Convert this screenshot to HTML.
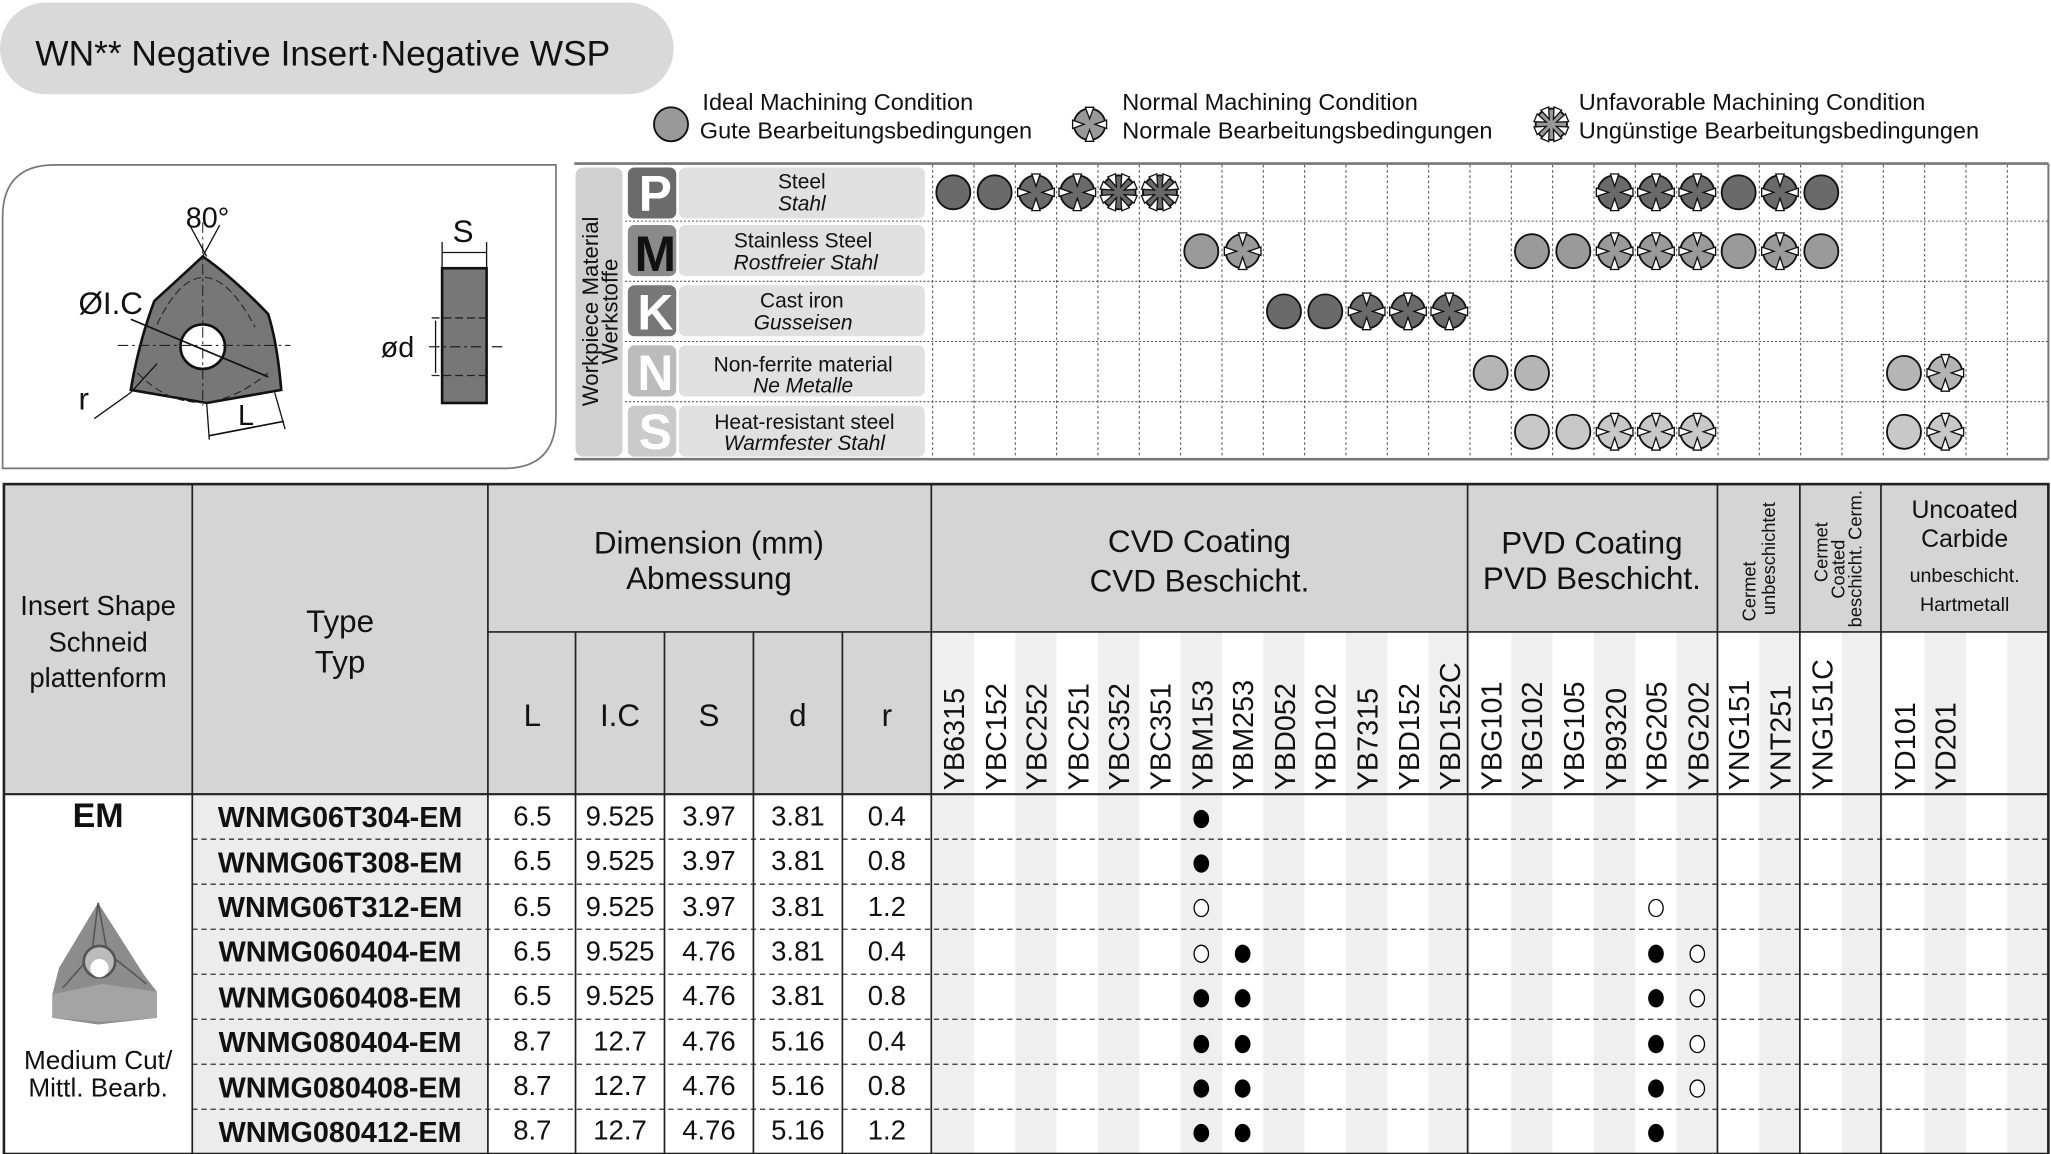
<!DOCTYPE html>
<html><head><meta charset="utf-8">
<style>
html,body{margin:0;padding:0;background:#fff;width:2051px;height:1154px;overflow:hidden}
svg{display:block}
text{font-family:"Liberation Sans",sans-serif;fill:#111}
</style></head>
<body>
<svg id="s" width="2051" height="1154" viewBox="0 0 1568 882" preserveAspectRatio="none" xmlns="http://www.w3.org/2000/svg">
<g id="bg"></g>
<rect x="0" y="2" width="515" height="70" rx="35" fill="#d9d9d9"/>
<text x="27" y="50" font-size="27">WN** Negative Insert·Negative WSP</text>
<g id="leg"></g>
<text x="537" y="84" font-size="18">Ideal Machining Condition</text>
<text x="535" y="106" font-size="18">Gute Bearbeitungsbedingungen</text>
<text x="858" y="84" font-size="18">Normal Machining Condition</text>
<text x="858" y="106" font-size="18">Normale Bearbeitungsbedingungen</text>
<text x="1207" y="84" font-size="18">Unfavorable Machining Condition</text>
<text x="1207" y="106" font-size="18">Ungünstige Bearbeitungsbedingungen</text>
<path d="M42,126 H425 V318 Q425,358 385,358 H2 V166 Q2,126 42,126 Z" fill="#fff" stroke="#777" stroke-width="1.3"/>
<path d="M155,196 Q140,210 118,230 Q106,262 100,298 L158,308 L215,298 Q212,262 205,240 Q178,212 155,196 Z" fill="#777" stroke="#111" stroke-width="2"/>
<circle cx="155" cy="265" r="17" fill="#fff" stroke="#111" stroke-width="2"/>
<path d="M120,248 Q155,175 195,250 M105,285 Q150,330 205,285" fill="none" stroke="#222" stroke-width="0.8" stroke-dasharray="6,3"/>
<line x1="155" y1="170" x2="155" y2="310" stroke="#222" stroke-width="0.8" stroke-dasharray="8,3,2,3"/>
<line x1="90" y1="264" x2="222" y2="264" stroke="#222" stroke-width="0.8" stroke-dasharray="8,3,2,3"/>
<line x1="100" y1="244" x2="205" y2="288" stroke="#111" stroke-width="1.3"/>
<line x1="145" y1="172" x2="158" y2="196" stroke="#111"/><line x1="168" y1="172" x2="155" y2="196" stroke="#111"/>
<line x1="100" y1="300" x2="72" y2="320" stroke="#111"/><line x1="100" y1="300" x2="120" y2="278" stroke="#111"/>
<line x1="210" y1="300" x2="218" y2="328" stroke="#111"/><line x1="158" y1="308" x2="160" y2="336" stroke="#111"/>
<line x1="160" y1="333" x2="217" y2="322" stroke="#111" stroke-width="1.3"/>
<text x="142" y="174" font-size="22">80°</text>
<text x="60" y="240" font-size="24">ØI.C</text>
<text x="60" y="313" font-size="24">r</text>
<text x="182" y="325" font-size="22">L</text>
<rect x="338" y="205" width="34" height="103" fill="#777" stroke="#111" stroke-width="2"/>
<line x1="338" y1="185" x2="338" y2="205" stroke="#111"/><line x1="372" y1="185" x2="372" y2="205" stroke="#111"/>
<line x1="338" y1="193" x2="372" y2="193" stroke="#111"/>
<line x1="330" y1="243" x2="372" y2="243" stroke="#222" stroke-dasharray="6,3"/><line x1="330" y1="287" x2="372" y2="287" stroke="#222" stroke-dasharray="6,3"/>
<line x1="328" y1="265" x2="385" y2="265" stroke="#222" stroke-dasharray="8,3,2,3"/>
<line x1="333" y1="245" x2="333" y2="285" stroke="#111"/>
<text x="346" y="185" font-size="24">S</text>
<text x="291" y="273" font-size="22">ød</text>
<g id="mat"></g>
<rect x="440" y="128" width="36" height="221" rx="6" fill="#d0d0d0"/>
<text transform="translate(457,238) rotate(-90)" text-anchor="middle" font-size="17">Workpiece Material</text>
<text transform="translate(472,238) rotate(-90)" text-anchor="middle" font-size="17">Werkstoffe</text>
<g id="letters"></g>
<text x="501" y="161" font-size="38" font-weight="bold" text-anchor="middle" style="fill:#fff">P</text>
<text x="501" y="207" font-size="38" font-weight="bold" text-anchor="middle" style="fill:#111">M</text>
<text x="501" y="252" font-size="38" font-weight="bold" text-anchor="middle" style="fill:#fff">K</text>
<text x="501" y="298" font-size="38" font-weight="bold" text-anchor="middle" style="fill:#fff">N</text>
<text x="501" y="343" font-size="38" font-weight="bold" text-anchor="middle" style="fill:#fff">S</text>
<g font-size="16" text-anchor="middle">
<text x="613" y="144">Steel</text><text x="613" y="161" font-style="italic">Stahl</text>
<text x="614" y="189">Stainless Steel</text><text x="616" y="206" font-style="italic">Rostfreier Stahl</text>
<text x="613" y="235">Cast iron</text><text x="614" y="252" font-style="italic">Gusseisen</text>
<text x="614" y="284">Non-ferrite material</text><text x="614" y="300" font-style="italic">Ne Metalle</text>
<text x="615" y="328">Heat-resistant steel</text><text x="615" y="344" font-style="italic">Warmfester Stahl</text>
</g>
<g id="sym"></g>
<g id="tbl"></g>
<g font-size="21" text-anchor="middle">
<text x="75" y="470">Insert Shape</text><text x="75" y="498">Schneid</text><text x="75" y="525">plattenform</text>
</g>
<g font-size="24" text-anchor="middle">
<text x="260" y="483">Type</text><text x="260" y="514">Typ</text>
<text x="542" y="423">Dimension (mm)</text><text x="542" y="450">Abmessung</text>
<text x="407" y="555">L</text><text x="474" y="555">I.C</text><text x="542" y="555">S</text><text x="610" y="555">d</text><text x="678" y="555">r</text>
<text x="917" y="422">CVD Coating</text><text x="917" y="452">CVD Beschicht.</text>
<text x="1217" y="423">PVD Coating</text><text x="1217" y="450">PVD Beschicht.</text>
</g>
<g font-size="14">
<text transform="translate(1342,452) rotate(-90)" text-anchor="middle">Cermet</text>
<text transform="translate(1357,427) rotate(-90)" text-anchor="middle">unbeschichtet</text>
<text transform="translate(1397,422) rotate(-90)" text-anchor="middle">Cermet</text>
<text transform="translate(1410,435) rotate(-90)" text-anchor="middle">Coated</text>
<text transform="translate(1423,427) rotate(-90)" text-anchor="middle">beschicht. Cerm.</text>
</g>
<g text-anchor="middle">
<text x="1502" y="396" font-size="19">Uncoated</text><text x="1502" y="418" font-size="19">Carbide</text>
<text x="1502" y="445" font-size="15">unbeschicht.</text><text x="1502" y="467" font-size="15">Hartmetall</text>
</g>
<g font-size="22">
<text transform="translate(737,604) rotate(-90)">YB6315</text>
<text transform="translate(769,604) rotate(-90)">YBC152</text>
<text transform="translate(800,604) rotate(-90)">YBC252</text>
<text transform="translate(832,604) rotate(-90)">YBC251</text>
<text transform="translate(863,604) rotate(-90)">YBC352</text>
<text transform="translate(895,604) rotate(-90)">YBC351</text>
<text transform="translate(927,604) rotate(-90)">YBM153</text>
<text transform="translate(958,604) rotate(-90)">YBM253</text>
<text transform="translate(990,604) rotate(-90)">YBD052</text>
<text transform="translate(1021,604) rotate(-90)">YBD102</text>
<text transform="translate(1053,604) rotate(-90)">YB7315</text>
<text transform="translate(1085,604) rotate(-90)">YBD152</text>
<text transform="translate(1116,604) rotate(-90)">YBD152C</text>
<text transform="translate(1148,604) rotate(-90)">YBG101</text>
<text transform="translate(1179,604) rotate(-90)">YBG102</text>
<text transform="translate(1211,604) rotate(-90)">YBG105</text>
<text transform="translate(1243,604) rotate(-90)">YB9320</text>
<text transform="translate(1274,604) rotate(-90)">YBG205</text>
<text transform="translate(1306,604) rotate(-90)">YBG202</text>
<text transform="translate(1337,604) rotate(-90)">YNG151</text>
<text transform="translate(1369,604) rotate(-90)">YNT251</text>
<text transform="translate(1401,604) rotate(-90)">YNG151C</text>
<text transform="translate(1464,604) rotate(-90)">YD101</text>
<text transform="translate(1495,604) rotate(-90)">YD201</text>
</g>
<text x="75" y="632" font-size="26" font-weight="bold" text-anchor="middle">EM</text>
<g id="ins"></g>
<text x="75" y="817" font-size="20" text-anchor="middle">Medium Cut/</text>
<text x="75" y="838" font-size="20" text-anchor="middle">Mittl. Bearb.</text>
<g font-size="22" font-weight="bold" text-anchor="middle">
<text x="260" y="632">WNMG06T304-EM</text>
<text x="260" y="667">WNMG06T308-EM</text>
<text x="260" y="701">WNMG06T312-EM</text>
<text x="260" y="735">WNMG060404-EM</text>
<text x="260" y="770">WNMG060408-EM</text>
<text x="260" y="804">WNMG080404-EM</text>
<text x="260" y="839">WNMG080408-EM</text>
<text x="260" y="873">WNMG080412-EM</text>
</g>
<g font-size="21" text-anchor="middle">
<text x="407" y="631">6.5</text><text x="474" y="631">9.525</text><text x="542" y="631">3.97</text><text x="610" y="631">3.81</text><text x="678" y="631">0.4</text>
<text x="407" y="665">6.5</text><text x="474" y="665">9.525</text><text x="542" y="665">3.97</text><text x="610" y="665">3.81</text><text x="678" y="665">0.8</text>
<text x="407" y="700">6.5</text><text x="474" y="700">9.525</text><text x="542" y="700">3.97</text><text x="610" y="700">3.81</text><text x="678" y="700">1.2</text>
<text x="407" y="734">6.5</text><text x="474" y="734">9.525</text><text x="542" y="734">4.76</text><text x="610" y="734">3.81</text><text x="678" y="734">0.4</text>
<text x="407" y="768">6.5</text><text x="474" y="768">9.525</text><text x="542" y="768">4.76</text><text x="610" y="768">3.81</text><text x="678" y="768">0.8</text>
<text x="407" y="803">8.7</text><text x="474" y="803">12.7</text><text x="542" y="803">4.76</text><text x="610" y="803">5.16</text><text x="678" y="803">0.4</text>
<text x="407" y="837">8.7</text><text x="474" y="837">12.7</text><text x="542" y="837">4.76</text><text x="610" y="837">5.16</text><text x="678" y="837">0.8</text>
<text x="407" y="871">8.7</text><text x="474" y="871">12.7</text><text x="542" y="871">4.76</text><text x="610" y="871">5.16</text><text x="678" y="871">1.2</text>
</g>
</svg>
<script>
var NS="http://www.w3.org/2000/svg";
function el(p,t,a){var e=document.createElementNS(NS,t);for(var k in a)e.setAttribute(k,a[k]);document.getElementById(p).appendChild(e);return e;}
var X0=713,W=31.6;function cx(i){return X0+W*(i+0.5);}
function sym(g,x,y,r,fill,n){
  el(g,"circle",{cx:x,cy:y,r:r,fill:fill,stroke:"#111","stroke-width":1.4});
  for(var k=0;k<n;k++){var a=k*2*Math.PI/n+(n==4?0:Math.PI/8);
    var c=Math.cos(a),s=Math.sin(a),px=-s,py=c,w=3.2;
    var ox=x+c*(r+1),oy=y+s*(r+1),ix=x+c*r*0.35,iy=y+s*r*0.35;
    el(g,"polygon",{points:(ox+px*w)+","+(oy+py*w)+" "+ix+","+iy+" "+(ox-px*w)+","+(oy-py*w),fill:"#fff",stroke:"#111","stroke-width":1});}
}
sym("leg",513,95,13,"#999",0);sym("leg",833,95,12,"#999",4);sym("leg",1186,95,12,"#999",8);
el("mat","rect",{x:439,y:125,width:1127,height:226,fill:"#fff"});
for(var i=0;i<=27;i++){var x=X0+W*i;el("mat","line",{x1:x,y1:126,x2:x,y2:350,stroke:"#555","stroke-width":0.8,"stroke-dasharray":"2,2"});}
[169,215,261,307].forEach(function(y){el("mat","line",{x1:478,y1:y,x2:1566,y2:y,stroke:"#555","stroke-width":0.8,"stroke-dasharray":"1.5,1.5"});});
el("mat","line",{x1:439,y1:125,x2:1566,y2:125,stroke:"#777","stroke-width":2});
el("mat","line",{x1:439,y1:351,x2:1566,y2:351,stroke:"#777","stroke-width":2});
el("mat","line",{x1:1566,y1:125,x2:1566,y2:351,stroke:"#777","stroke-width":1.5});
var rows=[[128,"#6b6b6b"],[172,"#8a8a8a"],[218,"#777"],[264,"#bbb"],[310,"#cacaca"]];
rows.forEach(function(r){el("letters","rect",{x:480,y:r[0],width:37,height:39,rx:5,fill:r[1]});
 el("letters","rect",{x:519,y:r[0],width:188,height:39,rx:5,fill:"#e0e0e0"});});
var data=[[147,"#6a6a6a",{0:0,1:0,2:4,3:4,4:8,5:8,16:4,17:4,18:4,19:0,20:4,21:0}],
[192,"#9a9a9a",{6:0,7:4,14:0,15:0,16:4,17:4,18:4,19:0,20:4,21:0}],
[238,"#6a6a6a",{8:0,9:0,10:4,11:4,12:4}],
[285,"#b5b5b5",{13:0,14:0,23:0,24:4}],
[330,"#c8c8c8",{14:0,15:0,16:4,17:4,18:4,23:0,24:4}]];
data.forEach(function(d){for(var k in d[2])sym("sym",cx(+k),d[0],13,d[1],d[2][k]);});
var T="tbl";
el(T,"rect",{x:3,y:370,width:1563,height:237,fill:"#d5d5d5"});
el(T,"rect",{x:712,y:483,width:854,height:124,fill:"#fff"});
el(T,"rect",{x:147,y:607,width:226,height:275,fill:"#ececec"});
for(var i=0;i<27;i+=2){el(T,"rect",{x:X0+W*i,y:483,width:W,height:399,fill:"#efefef"});}
var ys=[607,641.4,675.8,710.2,744.6,779,813.4,847.8,882];
for(var j=1;j<8;j++)el(T,"line",{x1:147,y1:ys[j],x2:1566,y2:ys[j],stroke:"#333","stroke-width":1,"stroke-dasharray":"4,3"});
function L(a,b,c,d,w){el(T,"line",{x1:a,y1:b,x2:c,y2:d,stroke:"#222","stroke-width":w||1.3});}
el(T,"rect",{x:3,y:370,width:1563,height:512,fill:"none",stroke:"#222","stroke-width":2});
L(147,370,147,882);L(373,370,373,882);L(712,370,712,882);
[1122,1313,1376,1438].forEach(function(x){L(x,370,x,882);});
[440,508,576,644].forEach(function(x){L(x,483,x,882);});
L(373,483,1566,483);L(3,607,1566,607,1.6);
el("ins","path",{d:"M40,760 L45,740 L75,690 L110,745 L120,758 L120,778 L75,783 L40,778 Z",fill:"#8c8c8c"});
el("ins","path",{d:"M40,760 L78,752 L120,758 L120,778 L78,781 L40,778 Z",fill:"#a4a4a4"});
el("ins","path",{d:"M75,690 L70,730 L48,755 M75,690 L82,728 L112,752",fill:"none",stroke:"#555","stroke-width":1.2});
el("ins","circle",{cx:76,cy:735,r:12,fill:"#bbb",stroke:"#555","stroke-width":2});
el("ins","circle",{cx:76,cy:740,r:7,fill:"#fff"});
var dots=[[[6,1]],[[6,1]],[[6,0],[17,0]],[[6,0],[7,1],[17,1],[18,0]],[[6,1],[7,1],[17,1],[18,0]],[[6,1],[7,1],[17,1],[18,0]],[[6,1],[7,1],[17,1],[18,0]],[[6,1],[7,1],[17,1]]];
var dy=[626,660,694,729,763,798,832,866];
dots.forEach(function(r,j){r.forEach(function(d){el(T,"ellipse",{cx:cx(d[0]),cy:dy[j],rx:d[1]?6:5.5,ry:d[1]?7:6.5,fill:d[1]?"#000":"#fff",stroke:"#000","stroke-width":d[1]?0:1});});});
</script>
</body></html>
